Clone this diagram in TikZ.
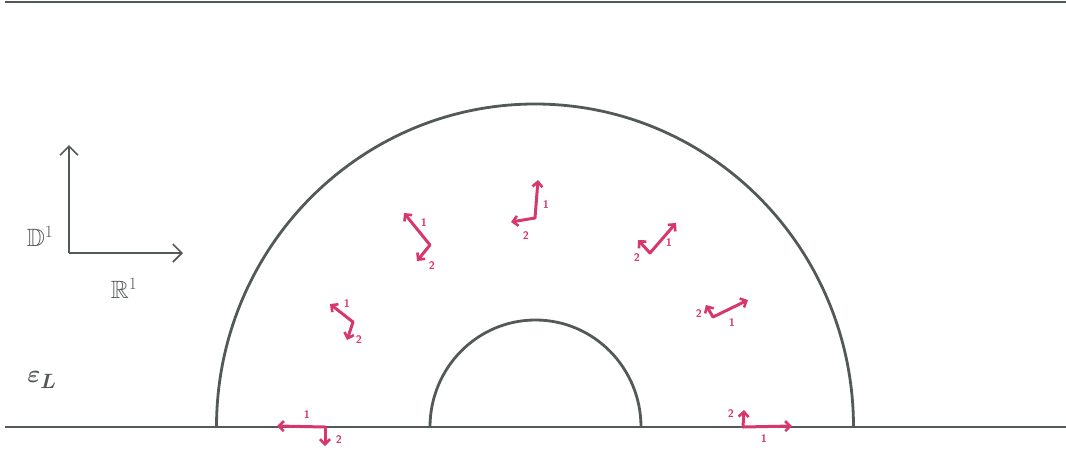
\documentclass[tikz,border=0pt]{standalone}
\usepackage{amssymb}
\usepackage{amsmath}
\usepackage{bm}
\usetikzlibrary{arrows.meta}
\definecolor{ink}{HTML}{535957}
\definecolor{pinkc}{HTML}{D6386E}
\tikzset{
  frame/.style={draw=pinkc, line width=3pt, line cap=round, line join=round,
    -{Straight Barb[length=5pt,width=10pt,line width=2.6pt]}},
  lab/.style={text=pinkc, font=\sffamily\bfseries\fontsize{11}{12}\selectfont, inner sep=0pt},
  gline/.style={draw=ink, line width=1.4pt},
  ringline/.style={draw=ink, line width=2.8pt},
  axis/.style={draw=ink, line width=1.6pt, -{Straight Barb[length=9pt,width=18pt,line width=1.6pt]}},
  axlab/.style={text=ink, font=\fontsize{25}{27}\selectfont, inner sep=0pt}
}
\begin{document}
\begin{tikzpicture}[x=1pt,y=-1pt]
\useasboundingbox (0,0) rectangle (1066,453);
% horizontal lines
\coordinate (t0) at (5,2); \coordinate (t1) at (1066,2);
\coordinate (b0) at (5,427); \coordinate (b1) at (1066,427);
\draw[gline] (t0) -- (t1);
\draw[gline] (b0) -- (b1);
% annulus half
\coordinate (oL) at (216.5,427);
\coordinate (iL) at (430,427);
\draw[ringline] (oL) arc[start angle=180,end angle=360,x radius=318.5,y radius=323];
\draw[ringline] (iL) arc[start angle=180,end angle=360,x radius=105.5,y radius=107];
% axes
\coordinate (ax0) at (69,253);
\coordinate (axU) at (69,145);
\coordinate (axR) at (183,253);
\draw[axis] (ax0) -- (axU);
\draw[axis] (ax0) -- (axR);
\node[axlab] (dlab) at (40,236) {$\mathbb{D}^1$};
\node[axlab] (rlab) at (124,288) {$\mathbb{R}^1$};
\node[text=ink, font=\fontsize{28}{30}\selectfont, inner sep=0pt] (el) at (42,380) {$\bm{\varepsilon}_{\bm{L}}$};
% frames
\foreach \n/\ox/\oy/\ax/\ay/\bx/\by/\lax/\lay/\lbx/\lby in {
  a/325/427/277/426/325/446/307/415/339/440,
  b/353/322/330/304/347/340/347/304/359/340,
  c/430/245/404/213/417/261/424/223/432/266,
  d/535/218/538/180/511/222/546/205/526/236,
  e/650/253/676/223/638/240/669/243/637/258,
  f/713/317/748/300/706/305/732/323/699/314,
  g/743/427/792/426/744/410/764/439/731/414}{
  \coordinate (o\n) at (\ox,\oy);
  \coordinate (p\n) at (\ax,\ay);
  \coordinate (q\n) at (\bx,\by);
  \draw[frame] (o\n) -- (p\n);
  \draw[frame] (o\n) -- (q\n);
  \node[lab] (l1\n) at (\lax,\lay) {1};
  \node[lab] (l2\n) at (\lbx,\lby) {2};
}
\end{tikzpicture}
\end{document}
